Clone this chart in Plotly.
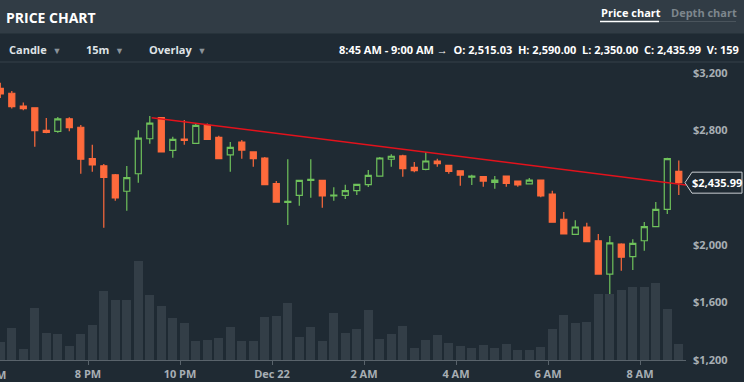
import pandas as pd
import plotly.graph_objects as go

# ---- data ----
start_time = "2017-12-21 18:00"
n_candles = 60
opens = [3093, 3059, 2970, 2958, 2801, 2794, 2881, 2822, 2603, 2554,
         2491, 2376, 2498, 2742, 2889, 2661, 2740, 2710, 2835, 2752,
         2630, 2719, 2650, 2608, 2429, 2298, 2347, 2451, 2452, 2343,
         2347, 2380, 2422, 2482, 2599, 2622, 2543, 2529, 2587, 2557,
         2519, 2475, 2478, 2438, 2482, 2447, 2427, 2454, 2357, 2181,
         2075, 2127, 2031, 1799, 2008, 1920, 2031, 2129, 2250, 2515.03]
highs = [3132, 3075, 2995, 2958, 2886, 2893, 2891, 2838, 2700, 2566,
         2496, 2552, 2801, 2900, 2893, 2756, 2873, 2849, 2848, 2763,
         2719, 2733, 2650, 2615, 2447, 2599, 2454, 2599, 2454, 2404,
         2422, 2426, 2524, 2615, 2634, 2631, 2580, 2650, 2603, 2559,
         2520, 2491, 2482, 2482, 2486, 2451, 2468, 2458, 2380, 2231,
         2174, 2157, 2078, 2064, 2013, 2041, 2162, 2301, 2610, 2590.00]
lows = [3026, 2952, 2940, 2687, 2780, 2784, 2795, 2498, 2512, 2122,
        2310, 2240, 2436, 2707, 2646, 2610, 2700, 2705, 2733, 2600,
        2512, 2603, 2547, 2419, 2296, 2141, 2275, 2331, 2261, 2310,
        2322, 2350, 2406, 2479, 2547, 2477, 2508, 2522, 2547, 2498,
        2414, 2420, 2408, 2394, 2408, 2408, 2423, 2334, 2159, 2075,
        2071, 2022, 1796, 1553, 1822, 1827, 1962, 2127, 2217, 2350.00]
closes = [3054, 2966, 2951, 2798, 2787, 2881, 2819, 2599, 2559, 2473,
          2329, 2471, 2747, 2851, 2650, 2738, 2731, 2835, 2738, 2603,
          2682, 2663, 2603, 2422, 2301, 2305, 2452, 2459, 2343, 2350,
          2380, 2424, 2487, 2608, 2620, 2533, 2519, 2587, 2568, 2515,
          2489, 2482, 2447, 2454, 2431, 2420, 2454, 2343, 2160, 2078,
          2127, 2024, 1799, 2017, 1916, 2013, 2129, 2250, 2603, 2435.99]
volumes = [183, 317, 110, 523, 273, 260, 143, 260, 350, 687,
           600, 600, 990, 650, 540, 420, 367, 190, 200, 220,
           330, 190, 193, 430, 440, 573, 227, 330, 193, 470,
           273, 310, 503, 207, 263, 340, 117, 200, 253, 173,
           140, 123, 150, 117, 157, 100, 100, 133, 307, 447,
           370, 380, 663, 663, 700, 730, 730, 770, 513, 159]
trend_times = ["2017-12-21 21:23", "2017-12-22 09:21"]
trend_prices = [2889, 2406]
x_tick_times = ["2017-12-21 20:00", "2017-12-21 22:00", "2017-12-22 00:00",
                "2017-12-22 02:00", "2017-12-22 04:00", "2017-12-22 06:00",
                "2017-12-22 08:00"]
x_tick_labels = ["8 PM", "10 PM", "Dec 22", "2 AM", "4 AM", "6 AM", "8 AM"]
y_tick_values = [1200, 1600, 2000, 2800, 3200]
y_tick_labels = ["$1,200", "$1,600", "$2,000", "$2,800", "$3,200"]
x_range = ["2017-12-21 18:05:13", "2017-12-22 09:00"]
y_range = [1200, 3263]
vol_range = [0, 2960]
info_text = ("8:45 AM - 9:00 AM \u2192  O: 2,515.03  H: 2,590.00  "
             "L: 2,350.00  C: 2,435.99  V: 159")

# ---- style ----
BG = "#1f2a33"
HEADER = "#313c45"
RED = "#fe6a3c"
GREEN = "#6fc25b"
VOLC = "#333e47"
AXIS = "#59636b"
TICKTXT = "#a7aeb4"
FONT = "Open Sans"

times = pd.date_range(start_time, periods=n_candles, freq="15min")
centers = times + pd.Timedelta(minutes=5.6)
bar_w_ms = 0.75 * 15 * 60 * 1000

fig = go.Figure()
fig.add_trace(go.Bar(
    x=centers, y=volumes, yaxis="y2", width=bar_w_ms,
    marker=dict(color=VOLC, line=dict(width=0)), hoverinfo="skip",
    showlegend=False))
fig.add_trace(go.Candlestick(
    x=centers, open=opens, high=highs, low=lows, close=closes,
    increasing=dict(line=dict(color=GREEN, width=1.2), fillcolor=BG),
    decreasing=dict(line=dict(color=RED, width=1.2), fillcolor=RED),
    whiskerwidth=0, showlegend=False))
fig.add_trace(go.Scatter(
    x=trend_times, y=trend_prices, mode="lines",
    line=dict(color="#e3121c", width=1.5), hoverinfo="skip",
    showlegend=False))

W, H = 744, 382
ml, mr, mt, mb = 0, 58, 64, 22
pw, ph = W - ml - mr, H - mt - mb


def px(xpix):
    return (xpix - ml) / pw


def py(ypix):
    return (H - mb - ypix) / ph


shapes = [
    dict(type="rect", xref="paper", yref="paper", x0=px(0), x1=px(W),
         y0=py(33.5), y1=py(0), fillcolor=HEADER, line=dict(width=0),
         layer="below"),
    dict(type="line", xref="paper", yref="paper", x0=px(0), x1=px(W),
         y0=py(62), y1=py(62), line=dict(color="#36414a", width=1)),
    dict(type="line", xref="paper", yref="paper", x0=px(659), x1=px(736),
         y0=py(21.5), y1=py(21.5), line=dict(color="#4a545c", width=1)),
    dict(type="line", xref="paper", yref="paper", x0=px(600), x1=px(659),
         y0=py(21.5), y1=py(21.5), line=dict(color="#ffffff", width=1.5)),
]

last_close = closes[-1]
half_h = 10.5 * (y_range[1] - y_range[0]) / ph
x_tip, x_l, x_r = px(685), px(692), px(742)
path = (f"M {x_tip},{last_close} L {x_l},{last_close + half_h} "
        f"L {x_r},{last_close + half_h} L {x_r},{last_close - half_h} "
        f"L {x_l},{last_close - half_h} Z")
shapes.append(dict(type="path", xref="paper", yref="y", path=path,
                   fillcolor=BG, line=dict(color="#c9ced2", width=1)))

tri = "<span style='color:#8a939a;font-size:9px'>\u25BC</span>"
annotations = [
    dict(text="<b>PRICE CHART</b>", xref="paper", yref="paper",
         x=px(4), y=py(17), xanchor="left", yanchor="middle",
         showarrow=False, font=dict(family=FONT, size=14, color="#ffffff")),
    dict(text="<b>Price chart</b>", xref="paper", yref="paper",
         x=px(599), y=py(13), xanchor="left", yanchor="middle",
         showarrow=False, font=dict(family=FONT, size=11, color="#ffffff")),
    dict(text="<b>Depth chart</b>", xref="paper", yref="paper",
         x=px(669), y=py(13), xanchor="left", yanchor="middle",
         showarrow=False, font=dict(family=FONT, size=11, color="#7d868d")),
    dict(text="<b>Candle</b>  " + tri, xref="paper", yref="paper",
         x=px(7), y=py(49), xanchor="left", yanchor="middle",
         showarrow=False, font=dict(family=FONT, size=11, color="#dfe3e6")),
    dict(text="<b>15m</b>  " + tri, xref="paper", yref="paper",
         x=px(84), y=py(49), xanchor="left", yanchor="middle",
         showarrow=False, font=dict(family=FONT, size=11, color="#dfe3e6")),
    dict(text="<b>Overlay</b>  " + tri, xref="paper", yref="paper",
         x=px(147), y=py(49), xanchor="left", yanchor="middle",
         showarrow=False, font=dict(family=FONT, size=11, color="#dfe3e6")),
    dict(text="<b>" + info_text + "</b>", xref="paper", yref="paper",
         x=px(741), y=py(49), xanchor="right", yanchor="middle",
         showarrow=False, font=dict(family=FONT, size=11, color="#ffffff")),
    dict(text="<b>6 PM</b>", xref="paper", yref="paper",
         x=px(0), xshift=8, y=0, yshift=-14, xanchor="right",
         yanchor="middle", showarrow=False,
         font=dict(family=FONT, size=11, color=TICKTXT)),
    dict(text="<b>$2,435.99</b>", xref="paper", yref="y",
         x=px(717), y=last_close, xanchor="center", yanchor="middle",
         showarrow=False, font=dict(family=FONT, size=11, color="#ffffff")),
]

fig.update_layout(
    width=W, height=H,
    margin=dict(l=ml, r=mr, t=mt, b=mb, pad=0),
    paper_bgcolor=BG, plot_bgcolor=BG,
    shapes=shapes, annotations=annotations,
    bargap=0, hovermode=False, dragmode=False,
    boxgap=0.25,
    xaxis=dict(
        type="date", range=x_range, rangeslider=dict(visible=False),
        tickvals=x_tick_times, ticktext=["<b>%s</b>" % t for t in x_tick_labels],
        ticks="outside", ticklen=4, tickcolor=AXIS, tickwidth=1,
        showline=True, linecolor=AXIS, linewidth=1, showgrid=False,
        zeroline=False, tickfont=dict(family=FONT, size=11, color=TICKTXT),
        fixedrange=True),
    yaxis=dict(
        range=y_range, side="right", tickvals=y_tick_values,
        ticktext=["<b>%s</b>" % t for t in y_tick_labels],
        ticks="", showgrid=False, zeroline=False, showline=False,
        ticklabelstandoff=6,
        tickfont=dict(family=FONT, size=11, color=TICKTXT), fixedrange=True),
    yaxis2=dict(range=vol_range, overlaying="y", visible=False,
                fixedrange=True),
)

fig.write_html(
    "out.html",
    config={"displayModeBar": False},
    post_script=("document.body.style.margin='0';"
                 "document.body.style.padding='0';"
                 "document.body.style.background='" + BG + "';"
                 "document.body.style.overflow='hidden';"),
)
